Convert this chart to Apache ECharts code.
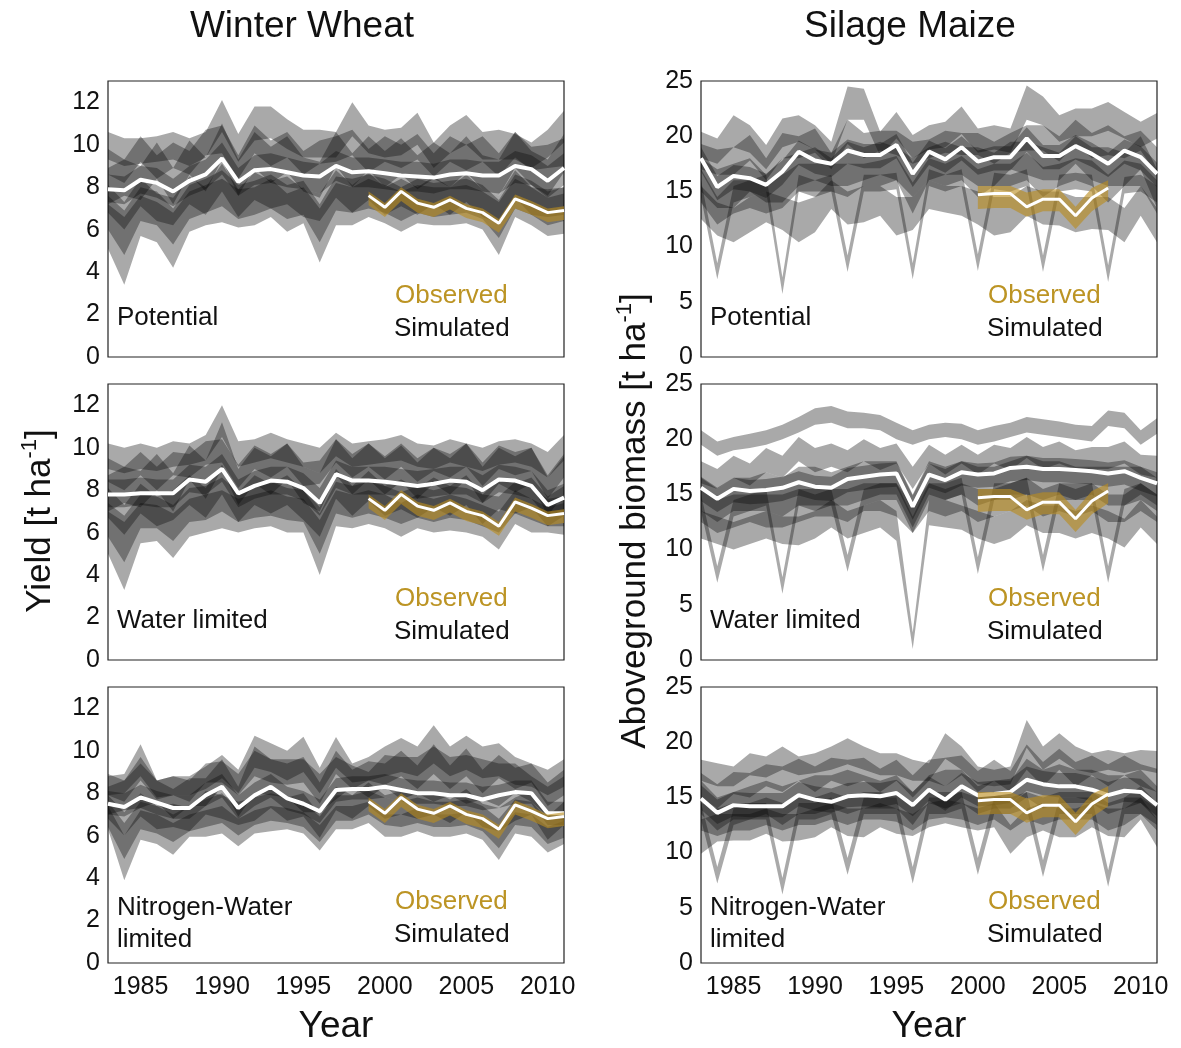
<!DOCTYPE html>
<html>
<head>
<meta charset="utf-8">
<script src="https://cdn.jsdelivr.net/npm/echarts@6/dist/echarts.min.js"></script>
<style>
  html, body { margin: 0; background: #fff; }
  #chart { width: 1181px; height: 1048px; }
</style>
</head>
<body>
<div id="chart"></div>
<script>
const years = [1983, 1984, 1985, 1986, 1987, 1988, 1989, 1990, 1991, 1992, 1993, 1994, 1995, 1996, 1997, 1998, 1999, 2000, 2001, 2002, 2003, 2004, 2005, 2006, 2007, 2008, 2009, 2010, 2011]
const wheatObsYears = [1999, 2000, 2001, 2002, 2003, 2004, 2005, 2006, 2007, 2008, 2009, 2010, 2011]
const maizeObsYears = [2000, 2001, 2002, 2003, 2004, 2005, 2006, 2007, 2008]

// observed yields (same in every row)
const wheatObsMean = [7.6, 7.05, 7.8, 7.25, 7.05, 7.4, 7.0, 6.8, 6.3, 7.45, 7.15, 6.8, 6.9]
const wheatObsLo = [7.15, 6.6, 7.35, 6.8, 6.6, 6.95, 6.55, 6.35, 5.85, 7.0, 6.7, 6.35, 6.45]
const wheatObsHi = [7.8, 7.25, 8.0, 7.45, 7.25, 7.6, 7.2, 7.0, 6.5, 7.65, 7.35, 7.0, 7.1]
const maizeObsMean = [14.7, 14.8, 14.8, 13.6, 14.3, 14.3, 12.8, 14.4, 15.3]
const maizeObsLo = [13.4, 13.5, 13.5, 12.7, 13.2, 13.2, 11.6, 13.2, 14.2]
const maizeObsHi = [15.5, 15.5, 15.5, 14.9, 15.2, 15.2, 13.6, 15.3, 16.0]

// ensemble medians
const wheatPotMedian = [7.9, 7.85, 8.35, 8.2, 7.8, 8.3, 8.6, 9.35, 8.25, 8.8, 8.85, 8.7, 8.55, 8.5, 9.0, 8.7, 8.75, 8.65, 8.55, 8.5, 8.45, 8.6, 8.65, 8.55, 8.55, 9.0, 8.85, 8.3, 8.9]
const wheatWatMedian = [7.8, 7.8, 7.85, 7.85, 7.85, 8.5, 8.4, 9.0, 7.85, 8.2, 8.45, 8.4, 8.1, 7.4, 8.75, 8.45, 8.45, 8.4, 8.3, 8.2, 8.3, 8.45, 8.4, 8.0, 8.5, 8.45, 8.2, 7.3, 7.65]
const wheatNwMedian = [7.5, 7.35, 7.8, 7.55, 7.3, 7.3, 7.9, 8.3, 7.3, 7.9, 8.3, 7.75, 7.5, 7.15, 8.15, 8.2, 8.2, 8.3, 8.15, 8.0, 8.0, 7.9, 7.9, 7.7, 7.9, 8.05, 8.0, 7.05, 7.05]
const maizePotMedian = [18.0, 15.4, 16.4, 16.2, 15.6, 16.8, 18.6, 17.8, 17.5, 18.7, 18.3, 18.3, 19.2, 16.6, 18.6, 17.9, 19.0, 17.7, 18.1, 18.1, 19.8, 18.2, 18.2, 19.1, 18.4, 17.5, 18.7, 18.1, 16.6]
const maizeWatMedian = [15.6, 14.6, 15.5, 15.3, 15.4, 15.6, 16.1, 15.7, 15.6, 16.4, 16.6, 16.8, 16.9, 13.9, 16.8, 16.3, 17.0, 16.8, 16.9, 17.4, 17.5, 17.3, 17.3, 17.2, 17.1, 16.9, 17.1, 16.5, 16.0]
const maizeNwMedian = [14.9, 13.6, 14.3, 14.2, 14.2, 14.2, 15.2, 14.8, 14.6, 15.1, 15.2, 15.1, 15.4, 14.3, 15.7, 14.8, 16.0, 15.2, 15.3, 15.5, 16.6, 16.2, 16.0, 16.0, 15.7, 15.2, 15.6, 15.5, 14.3]

// model ranges, one row per model (lower / upper edge)
const wheatPotLo = [
  [5.1, 3.4, 5.7, 5.4, 4.2, 5.9, 6.2, 6.35, 6.1, 6.2, 6.6, 5.9, 6.3, 4.45, 6.2, 6.2, 6.6, 6.3, 5.9, 6.3, 6.2, 6.2, 6.3, 6.0, 4.8, 6.6, 6.2, 5.7, 5.8],
  [9.3, 9.0, 9.1, 9.2, 9.3, 9.0, 9.4, 10.6, 9.2, 10.2, 10.3, 9.8, 9.4, 9.4, 9.4, 10.4, 9.6, 9.4, 9.5, 10.0, 8.9, 9.6, 10.0, 9.3, 9.3, 9.3, 8.9, 9.4, 10.1],
  [7.3, 7.2, 7.7, 7.5, 7.1, 7.6, 7.9, 8.6, 7.6, 8.1, 8.2, 8.0, 7.9, 7.7, 8.3, 8.0, 8.0, 7.9, 7.8, 7.8, 7.7, 7.9, 7.9, 7.8, 7.7, 8.2, 8.1, 7.5, 8.1],
  [8.6, 8.2, 9.2, 8.4, 8.9, 8.6, 9.5, 9.6, 8.4, 9.6, 9.0, 9.4, 8.6, 9.1, 9.2, 9.5, 8.7, 9.2, 8.9, 9.3, 8.5, 9.2, 8.8, 9.2, 8.5, 9.4, 8.8, 8.9, 9.0],
  [6.8, 6.0, 7.1, 6.4, 6.2, 7.2, 6.7, 7.8, 6.6, 7.4, 7.0, 7.2, 6.6, 6.4, 7.5, 6.8, 7.4, 6.7, 7.1, 6.7, 7.2, 6.7, 7.3, 6.6, 6.3, 7.5, 6.7, 6.6, 6.7],
  [7.2, 7.6, 7.4, 8.4, 7.2, 8.6, 7.8, 9.3, 7.6, 8.9, 8.2, 8.7, 7.8, 7.5, 9.0, 8.0, 8.8, 8.0, 8.6, 7.9, 8.4, 8.0, 8.7, 7.9, 7.6, 8.9, 8.1, 7.6, 8.7],
  [6.0, 4.8, 6.4, 6.2, 5.3, 6.5, 6.8, 7.1, 6.5, 6.7, 7.0, 6.5, 6.7, 5.4, 6.9, 6.8, 7.0, 6.8, 6.4, 6.8, 6.6, 6.7, 6.8, 6.5, 5.6, 7.0, 6.7, 6.2, 6.4]
]
const wheatPotHi = [
  [7.2, 6.6, 7.6, 7.3, 6.8, 7.8, 8.1, 8.4, 7.9, 8.0, 8.4, 7.7, 8.0, 7.0, 8.2, 8.0, 8.4, 8.1, 7.8, 8.1, 8.0, 8.0, 8.1, 7.8, 7.3, 8.4, 8.0, 7.5, 7.7],
  [10.6, 10.3, 10.3, 10.4, 10.6, 10.3, 10.6, 12.1, 10.5, 11.8, 11.8, 11.2, 10.7, 10.7, 10.6, 12.0, 10.9, 10.7, 10.8, 11.5, 10.1, 10.9, 11.4, 10.6, 10.7, 10.5, 10.1, 10.7, 11.6],
  [8.6, 8.5, 9.0, 8.9, 8.4, 9.0, 9.3, 10.1, 8.9, 9.5, 9.6, 9.4, 9.2, 9.1, 9.7, 9.4, 9.4, 9.3, 9.2, 9.2, 9.1, 9.3, 9.3, 9.2, 9.2, 9.7, 9.5, 9.0, 9.6],
  [9.8, 9.3, 10.4, 9.5, 10.1, 9.7, 10.7, 10.9, 9.5, 10.9, 10.2, 10.6, 9.7, 10.2, 10.4, 10.7, 9.8, 10.4, 10.0, 10.5, 9.6, 10.4, 10.0, 10.4, 9.6, 10.6, 9.9, 10.0, 10.3],
  [8.1, 7.3, 8.4, 7.7, 7.5, 8.5, 8.0, 9.1, 7.9, 8.7, 8.3, 8.5, 7.9, 7.7, 8.8, 8.1, 8.7, 8.0, 8.4, 8.0, 8.5, 8.0, 8.6, 7.9, 7.6, 8.8, 8.0, 7.9, 8.0],
  [8.9, 9.3, 9.0, 10.1, 8.9, 10.2, 9.4, 11.0, 9.3, 10.6, 9.9, 10.4, 9.4, 9.2, 10.6, 9.6, 10.4, 9.7, 10.3, 9.5, 10.1, 9.6, 10.4, 9.5, 9.3, 10.6, 9.7, 9.3, 10.5],
  [7.6, 6.9, 8.0, 7.8, 7.0, 8.1, 8.4, 8.8, 8.1, 8.3, 8.6, 8.1, 8.3, 7.2, 8.5, 8.4, 8.6, 8.4, 8.0, 8.4, 8.2, 8.3, 8.4, 8.1, 7.4, 8.6, 8.3, 7.8, 8.0]
]
const wheatWatLo = [
  [5.0, 3.3, 5.5, 5.6, 4.8, 5.8, 6.0, 6.2, 6.0, 6.2, 6.3, 6.0, 6.0, 4.0, 6.3, 6.2, 6.4, 6.2, 5.8, 6.2, 6.0, 6.1, 6.0, 5.8, 5.2, 6.4, 6.0, 6.0, 5.9],
  [9.0, 8.8, 9.0, 8.9, 9.1, 9.2, 9.4, 10.5, 9.1, 9.3, 9.5, 9.3, 9.1, 8.8, 9.6, 9.1, 9.2, 9.3, 9.4, 9.1, 9.0, 9.3, 9.1, 8.9, 9.2, 9.3, 9.1, 8.6, 9.4],
  [7.2, 7.2, 7.3, 7.2, 7.2, 7.9, 7.8, 8.4, 7.2, 7.6, 7.8, 7.8, 7.5, 6.8, 8.1, 7.8, 7.8, 7.8, 7.7, 7.6, 7.7, 7.8, 7.8, 7.4, 7.9, 7.8, 7.6, 6.7, 7.0],
  [8.4, 8.0, 8.7, 8.0, 8.7, 8.6, 9.2, 9.3, 8.1, 9.0, 8.6, 9.1, 8.2, 8.3, 9.3, 8.6, 9.1, 8.5, 9.1, 8.4, 8.9, 8.6, 9.1, 8.2, 9.0, 8.7, 8.9, 7.6, 8.6],
  [6.7, 5.9, 6.9, 6.3, 6.6, 7.3, 6.7, 7.8, 6.5, 7.3, 6.9, 7.3, 6.6, 5.8, 7.6, 6.8, 7.5, 6.8, 7.1, 6.7, 7.2, 6.8, 7.3, 6.4, 7.1, 6.9, 7.2, 6.3, 6.8],
  [7.0, 7.4, 7.2, 8.0, 7.0, 8.5, 7.6, 9.0, 7.3, 8.3, 7.8, 8.5, 7.4, 7.0, 8.7, 7.8, 8.5, 7.8, 8.4, 7.6, 8.3, 7.8, 8.5, 7.4, 8.3, 7.9, 8.3, 6.8, 7.8],
  [5.8, 4.6, 6.2, 6.2, 5.6, 6.5, 6.6, 7.0, 6.5, 6.7, 6.8, 6.6, 6.5, 5.0, 6.9, 6.7, 6.9, 6.7, 6.4, 6.7, 6.5, 6.7, 6.6, 6.3, 6.0, 6.9, 6.6, 6.3, 6.3]
]
const wheatWatHi = [
  [7.0, 6.5, 7.4, 7.3, 6.9, 7.6, 7.8, 8.0, 7.6, 7.8, 8.0, 7.7, 7.6, 6.6, 8.0, 7.8, 8.0, 7.8, 7.4, 7.8, 7.6, 7.8, 7.6, 7.3, 7.0, 8.0, 7.6, 7.2, 7.4],
  [10.2, 10.0, 10.2, 10.0, 10.3, 10.2, 10.6, 12.0, 10.3, 10.4, 10.7, 10.4, 10.2, 10.0, 10.7, 10.2, 10.3, 10.4, 10.6, 10.2, 10.1, 10.4, 10.2, 10.0, 10.3, 10.4, 10.2, 9.8, 10.6],
  [8.5, 8.5, 8.6, 8.5, 8.5, 9.2, 9.1, 9.7, 8.5, 8.9, 9.1, 9.1, 8.8, 8.1, 9.4, 9.1, 9.1, 9.1, 9.0, 8.9, 9.0, 9.1, 9.1, 8.7, 9.2, 9.1, 8.9, 8.0, 8.3],
  [9.5, 9.1, 9.8, 9.1, 9.8, 9.7, 10.3, 10.4, 9.2, 10.1, 9.7, 10.2, 9.3, 9.4, 10.4, 9.7, 10.2, 9.6, 10.2, 9.5, 10.0, 9.7, 10.2, 9.3, 10.1, 9.8, 10.0, 8.7, 9.7],
  [8.1, 7.3, 8.3, 7.7, 8.0, 8.7, 8.1, 9.2, 7.9, 8.7, 8.3, 8.7, 8.0, 7.2, 9.0, 8.2, 8.9, 8.2, 8.5, 8.1, 8.6, 8.2, 8.7, 7.8, 8.5, 8.3, 8.6, 7.7, 8.2],
  [8.7, 9.1, 8.9, 9.7, 8.8, 10.1, 9.4, 11.2, 9.0, 10.0, 9.6, 10.2, 9.1, 8.8, 10.4, 9.5, 10.2, 9.5, 10.1, 9.3, 10.0, 9.5, 10.2, 9.1, 10.0, 9.6, 10.0, 8.6, 9.6],
  [7.4, 6.8, 7.8, 7.7, 7.3, 8.1, 8.2, 8.6, 7.9, 8.2, 8.4, 8.1, 8.0, 6.9, 8.4, 8.2, 8.4, 8.2, 7.9, 8.2, 8.0, 8.2, 8.1, 7.8, 7.7, 8.4, 8.1, 7.6, 7.7]
]
const wheatNwLo = [
  [6.3, 3.9, 5.8, 5.6, 5.1, 5.95, 5.95, 6.1, 5.5, 6.1, 6.2, 6.3, 6.1, 5.3, 6.3, 6.3, 6.6, 5.95, 5.95, 6.2, 5.95, 5.95, 6.1, 5.8, 4.85, 6.1, 5.95, 5.2, 5.6],
  [7.9, 8.0, 8.8, 7.8, 7.9, 7.9, 8.2, 8.7, 8.0, 9.2, 9.0, 8.6, 9.0, 8.0, 9.2, 8.5, 8.6, 8.8, 9.0, 8.8, 9.4, 8.8, 9.1, 8.7, 8.8, 8.4, 8.3, 7.9, 8.3],
  [7.0, 6.9, 7.3, 7.0, 6.8, 6.8, 7.4, 7.8, 6.8, 7.4, 7.8, 7.2, 7.0, 6.6, 7.6, 7.7, 7.7, 7.8, 7.6, 7.5, 7.5, 7.4, 7.4, 7.2, 7.3, 7.5, 7.5, 6.5, 6.5],
  [7.9, 7.6, 8.6, 7.7, 7.9, 7.6, 8.5, 8.5, 7.9, 8.8, 8.5, 8.4, 8.5, 7.5, 8.9, 8.2, 8.6, 8.4, 8.8, 8.2, 8.9, 8.2, 8.8, 8.0, 8.7, 8.2, 8.5, 7.4, 7.9],
  [6.8, 6.0, 6.9, 6.3, 6.4, 6.2, 7.0, 6.8, 6.5, 6.7, 7.3, 6.7, 6.9, 5.9, 7.2, 6.8, 7.4, 6.8, 7.0, 6.8, 7.0, 6.6, 7.1, 6.4, 6.2, 6.7, 7.0, 5.8, 6.5],
  [7.0, 7.2, 7.3, 7.6, 6.8, 7.4, 7.4, 8.3, 6.9, 8.0, 7.9, 7.8, 7.1, 7.1, 7.7, 8.3, 7.8, 8.3, 7.7, 8.0, 7.6, 7.9, 7.5, 7.7, 7.4, 8.0, 7.6, 6.9, 6.7],
  [6.4, 4.9, 6.3, 6.1, 5.7, 6.2, 6.4, 6.6, 6.0, 6.5, 6.7, 6.6, 6.4, 5.7, 6.7, 6.7, 7.0, 6.5, 6.4, 6.6, 6.4, 6.4, 6.5, 6.2, 5.4, 6.5, 6.4, 5.6, 5.9]
]
const wheatNwHi = [
  [7.4, 6.0, 7.2, 7.0, 6.6, 7.0, 7.2, 7.4, 6.8, 7.2, 7.4, 7.3, 7.1, 6.5, 7.4, 7.4, 7.6, 7.0, 7.0, 7.3, 7.0, 7.0, 7.1, 6.8, 6.2, 7.1, 7.0, 6.4, 6.7],
  [8.8, 8.9, 10.3, 8.6, 8.8, 8.8, 9.25, 9.8, 9.1, 10.7, 10.35, 10.0, 10.66, 9.2, 10.65, 9.4, 9.7, 10.2, 10.6, 10.2, 11.2, 10.2, 10.7, 10.2, 10.35, 9.7, 9.4, 9.1, 9.6],
  [8.1, 8.0, 8.4, 8.1, 7.9, 7.9, 8.5, 8.9, 7.9, 8.5, 8.9, 8.3, 8.1, 7.7, 8.7, 8.8, 8.8, 8.9, 8.7, 8.6, 8.6, 8.5, 8.5, 8.3, 8.4, 8.6, 8.6, 7.6, 7.6],
  [8.9, 8.6, 9.7, 8.6, 8.8, 8.6, 9.4, 9.5, 8.9, 10.0, 9.6, 9.4, 9.7, 8.5, 10.0, 9.1, 9.5, 9.4, 10.0, 9.3, 10.3, 9.3, 10.1, 9.1, 9.8, 9.2, 9.4, 8.5, 9.1],
  [7.9, 7.1, 8.0, 7.4, 7.5, 7.3, 8.1, 7.9, 7.6, 7.8, 8.4, 7.8, 8.0, 7.0, 8.3, 7.9, 8.5, 7.9, 8.1, 7.9, 8.1, 7.7, 8.2, 7.5, 7.3, 7.8, 8.1, 6.9, 7.6],
  [8.3, 8.6, 9.4, 8.6, 8.2, 8.7, 8.7, 9.6, 8.3, 10.2, 9.6, 9.6, 9.6, 8.9, 9.7, 9.3, 9.0, 9.8, 9.7, 9.7, 10.2, 9.7, 9.8, 9.6, 9.4, 9.4, 8.8, 8.3, 8.8],
  [7.6, 6.6, 7.6, 7.4, 7.0, 7.4, 7.7, 8.0, 7.2, 7.8, 8.0, 7.8, 7.6, 6.9, 7.9, 7.9, 8.1, 7.8, 7.6, 7.8, 7.6, 7.6, 7.7, 7.4, 6.8, 7.7, 7.6, 6.8, 7.0]
]
const maizePotLo = [
  [14.5, 7.05, 14.0, 14.5, 15.0, 5.7, 15.0, 14.5, 15.0, 7.7, 15.0, 15.0, 15.2, 7.05, 15.5, 15.0, 15.5, 7.8, 15.2, 15.0, 15.5, 7.7, 15.0, 15.2, 15.0, 6.8, 14.8, 15.0, 14.0],
  [12.5, 11.0, 10.4, 11.3, 12.2, 11.5, 10.4, 11.3, 13.4, 12.0, 12.2, 12.8, 11.0, 11.5, 13.4, 13.1, 12.8, 12.0, 11.0, 11.3, 12.8, 12.0, 11.9, 11.3, 11.6, 11.5, 10.4, 12.8, 10.4],
  [18.0, 17.5, 19.0, 18.5, 17.0, 19.0, 19.5, 18.8, 17.5, 21.5, 21.5, 18.2, 19.8, 18.0, 18.8, 19.0, 20.2, 18.5, 18.8, 18.5, 21.5, 21.0, 19.5, 20.0, 20.0, 20.5, 19.8, 19.0, 19.8],
  [16.8, 14.2, 15.2, 15.0, 14.4, 15.6, 17.4, 16.6, 16.3, 17.5, 17.1, 17.1, 18.0, 15.4, 17.4, 16.7, 17.8, 16.5, 16.9, 16.9, 18.6, 17.0, 17.0, 17.9, 17.2, 16.3, 17.5, 16.9, 15.4],
  [14.0, 12.0, 13.0, 13.5, 13.0, 13.5, 15.0, 15.0, 15.0, 14.5, 15.5, 15.5, 16.0, 13.0, 16.0, 15.5, 16.0, 14.5, 15.5, 15.5, 16.0, 14.5, 15.5, 16.0, 15.5, 14.0, 15.5, 15.5, 13.0],
  [17.0, 16.5, 16.5, 17.8, 16.0, 18.0, 18.0, 18.5, 17.0, 19.3, 18.0, 18.7, 18.3, 17.5, 18.0, 18.5, 18.3, 18.3, 17.5, 18.5, 18.7, 18.7, 17.7, 19.3, 18.0, 18.3, 18.0, 18.7, 16.5],
  [15.0, 13.5, 13.5, 15.0, 14.0, 14.0, 15.5, 16.0, 15.5, 15.5, 16.0, 16.5, 16.0, 14.5, 16.0, 16.5, 16.5, 15.5, 15.5, 17.0, 16.5, 16.0, 16.0, 17.5, 16.0, 15.5, 15.5, 17.0, 13.5]
]
const maizePotHi = [
  [16.0, 8.5, 15.5, 16.0, 16.5, 7.2, 16.5, 16.0, 16.5, 9.2, 16.5, 16.5, 16.7, 8.5, 17.0, 16.5, 17.0, 9.3, 16.7, 16.5, 17.0, 9.2, 16.5, 16.7, 16.5, 8.3, 16.3, 16.5, 15.5],
  [15.5, 14.0, 13.5, 14.5, 15.0, 14.5, 14.0, 14.5, 16.0, 15.0, 15.5, 15.5, 14.5, 14.5, 16.0, 15.5, 15.5, 15.0, 14.5, 14.5, 15.5, 15.0, 15.0, 14.5, 14.5, 14.5, 13.5, 15.5, 13.5],
  [20.4, 19.8, 21.9, 21.0, 19.2, 21.6, 21.9, 21.0, 19.5, 24.5, 24.3, 20.4, 22.2, 20.1, 21.0, 21.3, 22.7, 20.7, 21.0, 20.7, 24.6, 23.6, 21.9, 22.5, 22.5, 23.1, 22.2, 21.3, 22.1],
  [19.0, 16.4, 17.4, 17.2, 16.6, 17.8, 19.6, 18.8, 18.5, 19.7, 19.3, 19.3, 20.2, 17.6, 19.6, 18.9, 20.0, 18.7, 19.1, 19.1, 20.8, 19.2, 19.2, 20.1, 19.4, 18.5, 19.7, 19.1, 17.6],
  [17.0, 14.5, 16.0, 16.0, 15.5, 16.5, 17.5, 17.5, 17.5, 17.5, 17.5, 17.8, 18.2, 15.8, 18.0, 17.5, 18.2, 17.0, 17.5, 17.5, 18.5, 17.2, 17.5, 18.0, 17.8, 16.5, 17.8, 17.5, 16.0],
  [19.3, 18.8, 19.0, 20.1, 18.0, 20.3, 20.0, 20.7, 18.5, 21.5, 20.3, 20.5, 20.5, 19.5, 19.7, 20.5, 20.3, 20.3, 19.5, 20.3, 21.0, 21.0, 20.0, 21.5, 20.3, 21.0, 20.0, 20.5, 19.0],
  [18.0, 17.0, 17.5, 18.0, 16.5, 18.0, 18.5, 19.0, 18.0, 19.5, 19.0, 19.5, 19.0, 18.0, 19.0, 19.5, 19.0, 19.0, 18.5, 19.5, 19.5, 19.0, 18.5, 20.0, 19.0, 19.0, 18.5, 20.0, 17.0]
]
const maizeWatLo = [
  [13.5, 7.0, 13.0, 13.5, 14.0, 6.0, 14.0, 13.5, 14.0, 8.0, 14.0, 14.5, 14.5, 11.5, 14.5, 14.5, 15.0, 7.8, 14.5, 14.5, 15.0, 8.0, 14.5, 14.5, 14.5, 7.0, 14.0, 14.5, 13.5],
  [11.0, 10.5, 10.0, 10.5, 11.0, 10.5, 10.4, 11.0, 12.0, 11.0, 11.5, 12.0, 10.8, 1.0, 12.2, 12.0, 11.8, 11.0, 10.5, 11.0, 12.2, 11.5, 11.5, 11.0, 11.5, 11.0, 10.2, 12.0, 10.5],
  [19.5, 18.5, 19.0, 19.2, 19.5, 20.0, 20.6, 21.3, 21.5, 21.0, 21.0, 20.8, 20.0, 19.5, 20.0, 20.2, 20.0, 19.5, 19.8, 20.2, 20.6, 20.4, 20.2, 20.0, 19.8, 21.2, 21.0, 19.5, 20.5],
  [14.4, 13.4, 14.3, 14.1, 14.2, 14.4, 14.9, 14.5, 14.4, 15.2, 15.4, 15.6, 15.7, 12.7, 15.6, 15.1, 15.8, 15.6, 15.7, 16.2, 16.3, 16.1, 16.1, 16.0, 15.9, 15.7, 15.9, 15.3, 14.8],
  [12.5, 11.5, 12.0, 12.5, 12.0, 12.0, 12.5, 13.0, 13.0, 12.5, 13.5, 13.5, 13.0, 11.5, 13.5, 13.0, 13.5, 12.5, 13.0, 13.5, 14.0, 13.0, 13.5, 13.0, 13.5, 12.5, 12.5, 13.5, 12.5],
  [16.0, 15.5, 16.5, 15.8, 17.0, 16.5, 18.0, 17.0, 17.5, 17.0, 18.0, 17.2, 17.8, 15.5, 17.8, 16.8, 17.8, 16.8, 17.8, 17.2, 18.3, 17.3, 17.8, 17.2, 17.3, 17.3, 17.8, 16.8, 16.5],
  [13.5, 12.5, 13.5, 13.5, 13.5, 13.0, 14.0, 14.0, 14.0, 14.0, 14.5, 15.0, 15.0, 12.0, 15.0, 14.5, 15.0, 14.0, 14.5, 15.0, 15.0, 14.5, 15.0, 14.5, 15.0, 14.0, 14.0, 15.0, 14.0]
]
const maizeWatHi = [
  [15.0, 8.5, 14.5, 15.0, 15.5, 7.5, 15.5, 15.0, 15.5, 9.5, 15.5, 16.0, 16.0, 13.0, 16.0, 16.0, 16.5, 9.3, 16.0, 16.0, 16.5, 9.5, 16.0, 16.0, 16.0, 8.5, 15.5, 16.0, 15.0],
  [13.5, 13.0, 12.5, 13.0, 13.5, 13.0, 13.0, 13.5, 14.5, 13.5, 14.0, 14.5, 13.5, 2.5, 14.5, 14.5, 14.0, 13.5, 13.0, 13.5, 14.5, 14.0, 14.0, 13.5, 14.0, 13.5, 12.8, 14.5, 13.0],
  [20.8, 19.8, 20.2, 20.5, 20.8, 21.3, 22.0, 22.8, 23.0, 22.5, 22.4, 22.2, 21.5, 20.8, 21.3, 21.5, 21.4, 20.8, 21.2, 21.5, 22.0, 21.8, 21.6, 21.3, 21.2, 22.6, 22.4, 20.8, 21.9],
  [16.6, 15.6, 16.5, 16.3, 16.4, 16.6, 17.1, 16.7, 16.6, 17.4, 17.6, 17.8, 17.9, 14.9, 17.8, 17.3, 18.0, 17.8, 17.9, 18.4, 18.5, 18.3, 18.3, 18.2, 18.1, 17.9, 18.1, 17.5, 17.0],
  [15.5, 14.5, 15.0, 15.0, 15.0, 15.0, 15.5, 15.5, 15.5, 15.5, 16.0, 16.0, 16.0, 14.0, 16.0, 15.5, 16.0, 15.5, 15.5, 16.0, 16.5, 15.5, 16.0, 15.5, 16.0, 15.0, 15.0, 16.0, 15.0],
  [18.0, 17.3, 18.5, 17.8, 19.2, 18.5, 20.2, 19.2, 19.6, 19.0, 20.0, 19.2, 19.6, 17.5, 19.5, 18.6, 19.5, 18.6, 19.5, 19.2, 20.2, 19.3, 19.8, 19.0, 19.3, 19.3, 19.8, 18.6, 18.5],
  [16.5, 15.5, 16.5, 16.5, 17.0, 16.5, 17.5, 17.5, 17.0, 17.5, 18.0, 18.0, 18.0, 15.0, 18.0, 17.5, 18.0, 17.5, 17.5, 18.0, 18.5, 18.0, 18.0, 17.5, 17.5, 17.5, 17.5, 17.5, 16.5]
]
const maizeNwLo = [
  [13.0, 7.2, 12.5, 13.0, 13.0, 6.2, 13.0, 13.0, 13.5, 8.0, 13.5, 13.5, 13.5, 7.2, 13.5, 13.5, 14.0, 8.0, 13.5, 13.5, 14.0, 7.8, 13.5, 13.5, 13.5, 6.9, 13.5, 13.5, 12.5],
  [9.9, 11.0, 11.1, 11.1, 11.7, 11.0, 11.1, 11.4, 12.3, 11.5, 11.4, 12.3, 11.7, 11.5, 12.3, 12.65, 12.3, 12.0, 12.3, 9.9, 11.4, 12.0, 11.4, 11.4, 12.3, 11.5, 11.4, 13.0, 10.5],
  [16.5, 16.0, 16.0, 17.0, 16.8, 17.5, 17.0, 17.2, 17.5, 18.0, 17.5, 17.0, 17.0, 16.5, 16.5, 18.5, 17.5, 16.2, 16.0, 16.2, 19.5, 17.5, 18.5, 17.5, 17.2, 17.5, 17.2, 17.5, 17.2],
  [13.9, 12.6, 13.3, 13.2, 13.2, 13.2, 14.2, 13.8, 13.6, 14.1, 14.2, 14.1, 14.4, 13.3, 14.7, 13.8, 15.0, 14.2, 14.3, 14.5, 15.6, 15.2, 15.0, 15.0, 14.7, 14.2, 14.6, 14.5, 13.3],
  [12.0, 11.5, 12.0, 12.0, 12.5, 12.0, 12.5, 12.5, 13.0, 12.5, 13.0, 13.0, 12.8, 12.0, 13.0, 13.2, 13.0, 12.5, 13.0, 12.0, 13.0, 12.5, 13.0, 13.0, 13.0, 12.0, 12.5, 13.5, 12.0],
  [15.0, 14.0, 15.3, 15.0, 16.0, 15.5, 16.5, 15.5, 16.5, 16.0, 16.5, 15.5, 16.5, 15.0, 16.5, 16.0, 17.0, 15.5, 16.5, 15.5, 17.5, 16.0, 17.5, 16.0, 17.0, 16.0, 17.0, 16.0, 15.5],
  [13.5, 12.0, 13.0, 13.0, 13.5, 12.5, 13.5, 13.5, 14.0, 13.5, 14.0, 14.0, 14.0, 12.5, 14.5, 14.0, 14.5, 13.5, 14.0, 14.0, 15.0, 14.0, 14.5, 14.5, 14.5, 13.5, 14.0, 14.5, 13.0]
]
const maizeNwHi = [
  [14.5, 8.7, 14.0, 14.5, 14.5, 7.7, 14.5, 14.5, 15.0, 9.5, 15.0, 15.0, 15.0, 8.7, 15.0, 15.0, 15.5, 9.5, 15.0, 15.0, 15.5, 9.3, 15.0, 15.0, 15.0, 8.4, 15.0, 15.0, 14.0],
  [13.0, 13.5, 13.5, 13.5, 14.0, 13.5, 13.5, 14.0, 14.5, 14.0, 14.0, 14.5, 14.0, 13.5, 14.5, 14.8, 14.5, 14.0, 14.5, 12.5, 14.0, 14.5, 14.0, 14.0, 14.5, 14.0, 14.0, 15.0, 13.0],
  [18.4, 18.1, 17.8, 19.0, 18.7, 19.6, 18.7, 19.0, 19.6, 20.35, 19.6, 19.0, 19.0, 18.4, 18.1, 20.8, 19.6, 17.8, 17.5, 17.8, 22.0, 19.6, 20.8, 19.6, 19.0, 19.3, 19.0, 19.3, 19.2],
  [16.1, 14.8, 15.5, 15.4, 15.4, 15.4, 16.4, 16.0, 15.8, 16.3, 16.4, 16.3, 16.6, 15.5, 16.9, 16.0, 17.2, 16.4, 16.5, 16.7, 17.8, 17.4, 17.2, 17.2, 16.9, 16.4, 16.8, 16.7, 15.5],
  [14.5, 14.0, 14.5, 14.5, 15.0, 14.5, 15.0, 15.0, 15.5, 15.0, 15.5, 15.5, 15.2, 14.5, 15.5, 15.5, 15.5, 15.0, 15.5, 14.5, 15.5, 15.0, 15.5, 15.5, 15.5, 14.5, 15.0, 16.0, 14.5],
  [17.2, 16.2, 17.3, 17.2, 18.0, 17.8, 18.5, 17.8, 18.6, 18.4, 18.6, 17.6, 18.4, 17.0, 18.4, 18.6, 18.8, 17.4, 18.4, 17.4, 19.8, 18.2, 19.4, 18.2, 18.8, 18.0, 18.8, 18.0, 17.6],
  [16.5, 15.0, 15.5, 16.0, 16.5, 16.0, 16.5, 17.0, 17.0, 17.5, 17.0, 16.5, 17.0, 15.5, 17.0, 17.5, 17.5, 16.0, 16.5, 16.5, 18.5, 17.5, 18.0, 17.5, 17.5, 17.0, 17.0, 17.5, 16.0]
]

const FONT = "'Liberation Sans', Arial, sans-serif"
const GREY = 'rgba(10,10,10,0.35)'
const GOLD = 'rgba(185,140,30,0.62)'
const GOLD_TEXT = '#BC9424'

const colLeft = [108, 701]
const rowTop = [81, 384, 687]
const gridW = 456
const gridH = 276

// grid order: row by row, wheat then maize
const panels = [
  { crop: 'wheat', row: 0, lo: wheatPotLo, hi: wheatPotHi, median: wheatPotMedian, label: 'Potential' },
  { crop: 'maize', row: 0, lo: maizePotLo, hi: maizePotHi, median: maizePotMedian, label: 'Potential' },
  { crop: 'wheat', row: 1, lo: wheatWatLo, hi: wheatWatHi, median: wheatWatMedian, label: 'Water limited' },
  { crop: 'maize', row: 1, lo: maizeWatLo, hi: maizeWatHi, median: maizeWatMedian, label: 'Water limited' },
  { crop: 'wheat', row: 2, lo: wheatNwLo, hi: wheatNwHi, median: wheatNwMedian, label: 'Nitrogen-Water\nlimited' },
  { crop: 'maize', row: 2, lo: maizeNwLo, hi: maizeNwHi, median: maizeNwMedian, label: 'Nitrogen-Water\nlimited' }
]

const obs = {
  wheat: { years: wheatObsYears, lo: wheatObsLo, hi: wheatObsHi, mean: wheatObsMean },
  maize: { years: maizeObsYears, lo: maizeObsLo, hi: maizeObsHi, mean: maizeObsMean }
}

// polygon band between lo[k] and hi[k]
function bandSeries (gi, xs, lo, hi, fill, z) {
  return {
    type: 'custom',
    xAxisIndex: gi,
    yAxisIndex: gi,
    clip: true,
    silent: true,
    z: z,
    data: lo.map((_, k) => [k]),
    renderItem: (params, api) => {
      const k = params.dataIndex
      const top = hi[k].map((v, i) => api.coord([xs[i], v]))
      const bottom = lo[k].map((v, i) => api.coord([xs[i], v])).reverse()
      return { type: 'polygon', shape: { points: top.concat(bottom) }, style: { fill: fill } }
    }
  }
}

const grids = []
const xAxes = []
const yAxes = []
const series = []
const texts = []

panels.forEach((p, gi) => {
  const col = p.crop === 'wheat' ? 0 : 1
  const left = colLeft[col]
  const top = rowTop[p.row]
  const last = p.row === 2
  grids.push({ left: left, top: top, width: gridW, height: gridH, show: true, borderColor: '#222', borderWidth: 1.2, backgroundColor: 'transparent' })
  xAxes.push({
    gridIndex: gi, type: 'value', min: 1983, max: 2011, interval: 1,
    axisLine: { show: false }, axisTick: { show: false }, splitLine: { show: false },
    axisLabel: { show: last, fontSize: 25, color: '#111', fontFamily: FONT, margin: 12, formatter: v => (v % 5 === 0 ? String(v) : '') },
    name: last ? 'Year' : '', nameLocation: 'middle', nameGap: 45,
    nameTextStyle: { fontSize: 37, color: '#111', fontFamily: FONT }
  })
  const wheat = p.crop === 'wheat'
  yAxes.push({
    gridIndex: gi, type: 'value', min: 0, max: wheat ? 13 : 25, interval: wheat ? 1 : 5,
    axisLine: { show: false }, axisTick: { show: false }, splitLine: { show: false },
    axisLabel: { fontSize: 25, color: '#111', fontFamily: FONT, margin: 8,
      formatter: v => (wheat ? (v % 2 === 0 && v <= 12 ? String(v) : '') : String(v)) }
  })

  const o = obs[p.crop]
  series.push(bandSeries(gi, years, p.lo, p.hi, GREY, 2))
  series.push({
    type: 'line', xAxisIndex: gi, yAxisIndex: gi, z: 3, silent: true, symbol: 'none',
    data: years.map((y, i) => [y, p.median[i]]),
    lineStyle: { color: '#fff', width: 4 }
  })
  series.push(bandSeries(gi, o.years, [o.lo], [o.hi], GOLD, 4))
  series.push({
    type: 'line', xAxisIndex: gi, yAxisIndex: gi, z: 5, silent: true, symbol: 'none',
    data: o.years.map((y, i) => [y, o.mean[i]]),
    lineStyle: { color: '#fff', width: 3 }
  })

  texts.push({ type: 'text', x: left + 9, y: top + 237, style: { text: p.label, font: '26px ' + FONT, fill: '#111', align: 'left', verticalAlign: 'middle', lineHeight: 32 } })
  texts.push({ type: 'text', x: left + 287, y: top + 215, style: { text: 'Observed', font: '26px ' + FONT, fill: GOLD_TEXT, align: 'left', verticalAlign: 'middle' } })
  texts.push({ type: 'text', x: left + 286, y: top + 248, style: { text: 'Simulated', font: '26px ' + FONT, fill: '#111', align: 'left', verticalAlign: 'middle' } })
})

texts.push({ type: 'text', x: 302, y: 27, style: { text: 'Winter Wheat', font: '37px ' + FONT, fill: '#111', align: 'center', verticalAlign: 'middle' } })
texts.push({ type: 'text', x: 910, y: 27, style: { text: 'Silage Maize', font: '37px ' + FONT, fill: '#111', align: 'center', verticalAlign: 'middle' } })
texts.push({
  type: 'text', x: 40, y: 521, rotation: Math.PI / 2,
  style: { text: 'Yield [t ha{sup|-1}]', font: '35px ' + FONT, fill: '#111', align: 'center', verticalAlign: 'middle', lineHeight: 42,
    rich: { sup: { fontSize: 22, fontFamily: FONT, fill: '#111', verticalAlign: 'top', lineHeight: 42, padding: [0, 0, 14, 0] } } }
})
texts.push({
  type: 'text', x: 635, y: 521, rotation: Math.PI / 2,
  style: { text: 'Aboveground biomass [t ha{sup|-1}]', font: '35px ' + FONT, fill: '#111', align: 'center', verticalAlign: 'middle', lineHeight: 42,
    rich: { sup: { fontSize: 22, fontFamily: FONT, fill: '#111', verticalAlign: 'top', lineHeight: 42, padding: [0, 0, 14, 0] } } }
})

const chart = echarts.init(document.getElementById('chart'))
chart.setOption({
  animation: false,
  backgroundColor: '#fff',
  grid: grids,
  xAxis: xAxes,
  yAxis: yAxes,
  series: series,
  graphic: { elements: texts }
})
</script>
</body>
</html>
